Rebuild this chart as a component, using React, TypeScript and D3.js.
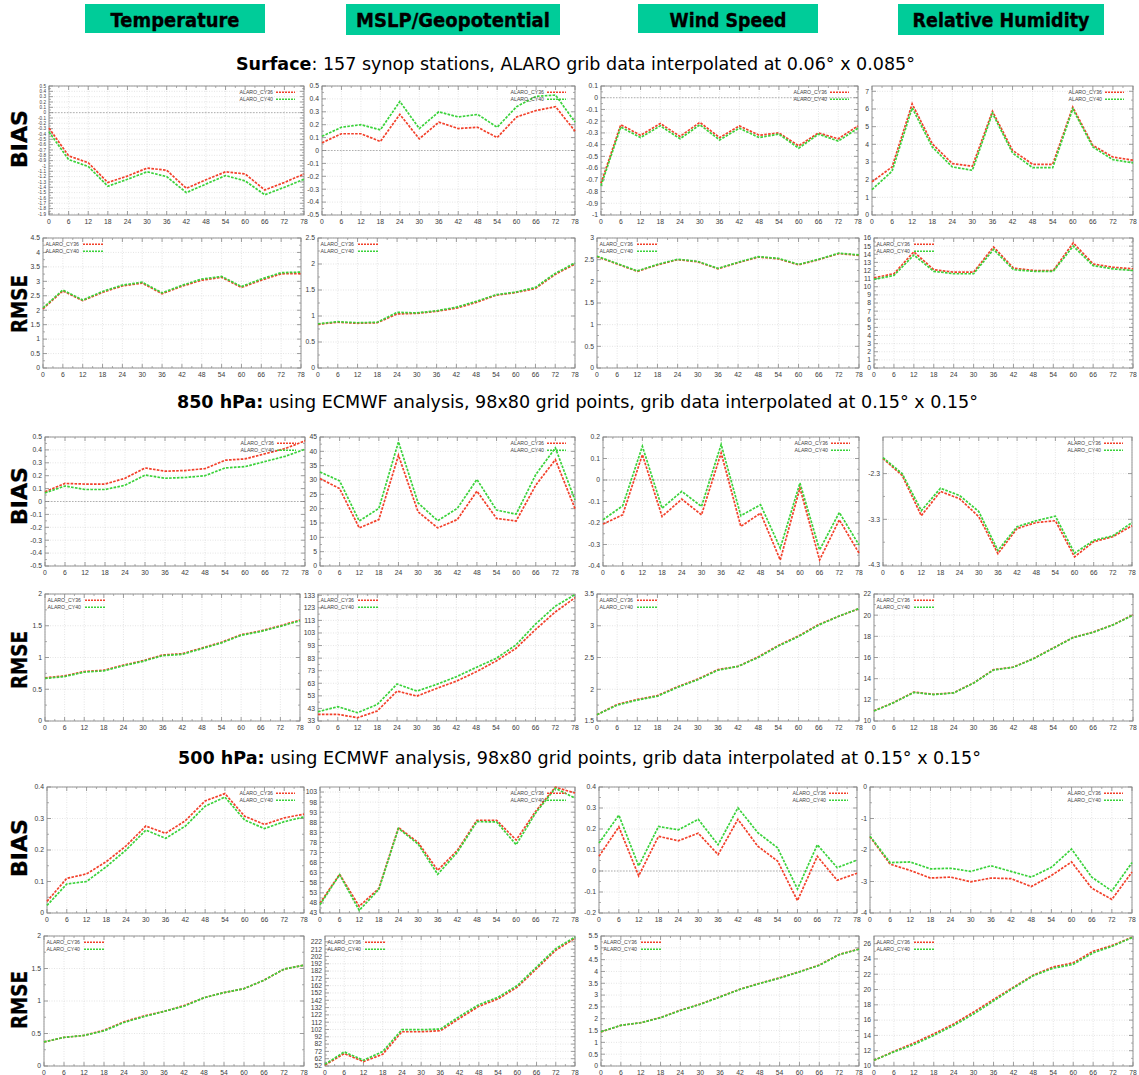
import React from "react";
import * as d3 from "d3";

// ---------- categories / labels ----------
const HOURS = [0, 6, 12, 18, 24, 30, 36, 42, 48, 54, 60, 66, 72, 78];
const MINOR_HOURS = [3, 9, 15, 21, 27, 33, 39, 45, 51, 57, 63, 69, 75];
const SERIES_NAMES = ["ALARO_CY36", "ALARO_CY40"];
const COLUMN_TITLES = ["Temperature", "MSLP/Geopotential", "Wind Speed", "Relative Humidity"];
const ROW_LABELS = ["BIAS", "RMSE", "BIAS", "RMSE", "BIAS", "RMSE"];
const SECTION_TITLES = [
  { bold: "Surface", rest: ": 157 synop stations, ALARO grib data interpolated at 0.06° x 0.085°" },
  { bold: "850 hPa:", rest: " using ECMWF analysis, 98x80 grid points, grib data interpolated at 0.15° x 0.15°" },
  { bold: "500 hPa:", rest: " using ECMWF analysis, 98x80 grid points, grib data interpolated at 0.15° x 0.15°" },
];

// ---------- y tick labels ----------
const T_SFC_T_BIAS = [0.5, 0.4, 0.3, 0.2, 0.1, 0, -0.1, -0.2, -0.3, -0.4, -0.5, -0.6, -0.7, -0.8, -0.9, -1, -1.1, -1.2, -1.3, -1.4, -1.5, -1.6, -1.7, -1.8, -1.9];
const T_PM05 = [0.5, 0.4, 0.3, 0.2, 0.1, 0, -0.1, -0.2, -0.3, -0.4, -0.5];
const T_SFC_W_BIAS = [0.1, 0, -0.1, -0.2, -0.3, -0.4, -0.5, -0.6, -0.7, -0.8, -0.9, -1];
const T_0_7 = [0, 1, 2, 3, 4, 5, 6, 7];
const T_0_45H = [0, 0.5, 1, 1.5, 2, 2.5, 3, 3.5, 4, 4.5];
const T_0_25H = [0, 0.5, 1, 1.5, 2, 2.5];
const T_0_3H = [0, 0.5, 1, 1.5, 2, 2.5, 3];
const T_0_16 = [0, 1, 2, 3, 4, 5, 6, 7, 8, 9, 10, 11, 12, 13, 14, 15, 16];
const T_0_45 = [0, 5, 10, 15, 20, 25, 30, 35, 40, 45];
const T_W850_BIAS = [0.2, 0.1, 0, -0.1, -0.2, -0.3, -0.4];
const T_RH850_BIAS = [-2.3, -3.3, -4.3];
const T_0_2H = [0, 0.5, 1, 1.5, 2];
const T_Z850_RMSE = [33, 43, 53, 63, 73, 83, 93, 103, 113, 123, 133];
const T_W850_RMSE = [1.5, 2, 2.5, 3, 3.5];
const T_10_22 = [10, 12, 14, 16, 18, 20, 22];
const T_0_04 = [0, 0.1, 0.2, 0.3, 0.4];
const T_Z500_BIAS = [43, 48, 53, 58, 63, 68, 73, 78, 83, 88, 93, 98, 103];
const T_W500_BIAS = [0.4, 0.3, 0.2, 0.1, 0, -0.1, -0.2];
const T_RH500_BIAS = [0, -1, -2, -3, -4];
const T_Z500_RMSE = [52, 62, 72, 82, 92, 102, 112, 122, 132, 142, 152, 162, 172, 182, 192, 202, 212, 222];
const T_0_55H = [0, 0.5, 1, 1.5, 2, 2.5, 3, 3.5, 4, 4.5, 5, 5.5];
const T_10_26 = [10, 12, 14, 16, 18, 20, 22, 24, 26];

// ---------- series values: Surface ----------
const sfcTBias36 = [-0.29, -0.81, -0.94, -1.31, -1.19, -1.04, -1.08, -1.42, -1.26, -1.11, -1.15, -1.45, -1.31, -1.15];
const sfcTBias40 = [-0.36, -0.88, -1.01, -1.38, -1.25, -1.11, -1.2, -1.5, -1.34, -1.18, -1.28, -1.54, -1.4, -1.25];
const sfcPBias36 = [0.06, 0.13, 0.13, 0.07, 0.28, 0.09, 0.22, 0.17, 0.18, 0.1, 0.26, 0.31, 0.34, 0.15];
const sfcPBias40 = [0.11, 0.18, 0.2, 0.16, 0.38, 0.17, 0.3, 0.26, 0.28, 0.18, 0.34, 0.42, 0.43, 0.22];
const sfcWBias36 = [-0.73, -0.23, -0.32, -0.22, -0.33, -0.21, -0.34, -0.24, -0.32, -0.3, -0.41, -0.3, -0.35, -0.24];
const sfcWBias40 = [-0.75, -0.25, -0.34, -0.24, -0.35, -0.23, -0.36, -0.26, -0.34, -0.31, -0.43, -0.31, -0.37, -0.26];
const sfcRBias36 = [1.88, 2.72, 6.29, 4.03, 2.91, 2.76, 5.87, 3.66, 2.87, 2.87, 6.1, 3.94, 3.28, 3.1];
const sfcRBias40 = [1.44, 2.48, 6.06, 3.85, 2.72, 2.53, 5.76, 3.51, 2.68, 2.68, 6.0, 3.85, 3.13, 2.95];

const sfcTRmse36 = [2.05, 2.67, 2.33, 2.62, 2.84, 2.94, 2.57, 2.83, 3.04, 3.14, 2.79, 3.04, 3.26, 3.27];
const sfcTRmse40 = [2.08, 2.7, 2.35, 2.65, 2.87, 2.97, 2.6, 2.86, 3.08, 3.17, 2.82, 3.08, 3.3, 3.32];
const sfcPRmse36 = [0.84, 0.88, 0.86, 0.87, 1.04, 1.05, 1.09, 1.15, 1.26, 1.4, 1.45, 1.53, 1.8, 2.0];
const sfcPRmse40 = [0.85, 0.89, 0.87, 0.88, 1.07, 1.06, 1.1, 1.17, 1.28, 1.41, 1.46, 1.55, 1.82, 2.02];
const sfcWRmse36 = [2.57, 2.4, 2.23, 2.38, 2.5, 2.45, 2.29, 2.43, 2.56, 2.52, 2.38, 2.5, 2.64, 2.6];
const sfcWRmse40 = [2.58, 2.41, 2.24, 2.39, 2.51, 2.46, 2.3, 2.44, 2.57, 2.53, 2.39, 2.51, 2.65, 2.61];
const sfcRRmse36 = [11.1, 11.6, 14.3, 12.1, 11.8, 11.8, 14.9, 12.3, 12.0, 12.0, 15.4, 12.8, 12.4, 12.2];
const sfcRRmse40 = [10.9, 11.4, 13.9, 11.9, 11.6, 11.6, 14.6, 12.1, 11.9, 11.9, 15.0, 12.6, 12.2, 12.0];

// ---------- series values: 850 hPa ----------
const t850Bias36 = [0.075, 0.14, 0.135, 0.135, 0.18, 0.26, 0.235, 0.24, 0.255, 0.32, 0.33, 0.37, 0.41, 0.47];
const t850Bias40 = [0.067, 0.12, 0.093, 0.093, 0.126, 0.205, 0.18, 0.186, 0.2, 0.26, 0.27, 0.31, 0.35, 0.405];
const z850Bias36 = [30.5, 27.0, 13.3, 16.2, 38.6, 18.9, 13.3, 16.2, 26.1, 16.6, 15.7, 28.2, 37.1, 20.0];
const z850Bias40 = [32.8, 29.7, 15.7, 20.1, 43.3, 22.0, 15.8, 20.1, 30.2, 19.5, 18.1, 31.9, 41.2, 23.0];
const w850Bias36 = [-0.205, -0.162, 0.118, -0.17, -0.089, -0.162, 0.126, -0.216, -0.154, -0.372, -0.037, -0.372, -0.185, -0.34];
const w850Bias40 = [-0.185, -0.12, 0.157, -0.131, -0.053, -0.123, 0.165, -0.166, -0.115, -0.317, -0.014, -0.325, -0.151, -0.302];
const rh850Bias36 = [-1.97, -2.34, -3.22, -2.69, -2.85, -3.24, -4.05, -3.5, -3.37, -3.33, -4.12, -3.79, -3.68, -3.44];
const rh850Bias40 = [-1.95, -2.3, -3.11, -2.62, -2.78, -3.13, -3.98, -3.46, -3.33, -3.23, -4.04, -3.76, -3.66, -3.37];

const t850Rmse36 = [0.68, 0.71, 0.78, 0.8, 0.88, 0.95, 1.04, 1.06, 1.15, 1.24, 1.36, 1.42, 1.5, 1.59];
const t850Rmse40 = [0.67, 0.7, 0.77, 0.79, 0.87, 0.94, 1.03, 1.05, 1.14, 1.23, 1.35, 1.41, 1.49, 1.58];
const z850Rmse36 = [38.3, 38.3, 35.6, 41.0, 56.8, 52.8, 58.9, 64.7, 72.1, 80.6, 90.6, 105.7, 119.7, 131.0];
const z850Rmse40 = [40.4, 44.4, 39.6, 46.2, 62.4, 56.8, 62.1, 68.2, 75.6, 82.7, 93.3, 110.0, 124.3, 133.5];
const w850Rmse36 = [1.6, 1.76, 1.84, 1.9, 2.04, 2.16, 2.31, 2.36, 2.51, 2.69, 2.84, 3.02, 3.15, 3.27];
const w850Rmse40 = [1.6, 1.75, 1.83, 1.89, 2.03, 2.15, 2.3, 2.36, 2.5, 2.68, 2.83, 3.01, 3.15, 3.27];
const rh850Rmse36 = [10.97, 11.76, 12.73, 12.52, 12.67, 13.6, 14.85, 15.1, 15.9, 16.9, 17.9, 18.4, 19.1, 20.03];
const rh850Rmse40 = [10.95, 11.74, 12.7, 12.5, 12.65, 13.58, 14.82, 15.08, 15.88, 16.88, 17.88, 18.38, 19.08, 20.0];

// ---------- series values: 500 hPa ----------
const t500Bias36 = [0.037, 0.11, 0.124, 0.163, 0.213, 0.276, 0.253, 0.293, 0.356, 0.379, 0.307, 0.281, 0.302, 0.314];
const t500Bias40 = [0.024, 0.092, 0.1, 0.147, 0.2, 0.263, 0.237, 0.276, 0.339, 0.368, 0.295, 0.268, 0.29, 0.305];
const z500Bias36 = [47.9, 62.2, 46.3, 55.2, 85.4, 78.0, 64.2, 74.0, 89.0, 89.0, 79.2, 93.5, 105.4, 102.5];
const z500Bias40 = [47.1, 62.0, 44.3, 54.7, 85.0, 77.2, 62.2, 73.1, 88.3, 88.2, 76.9, 92.7, 104.9, 100.0];
const w500Bias36 = [0.07, 0.21, -0.023, 0.165, 0.144, 0.18, 0.078, 0.246, 0.118, 0.047, -0.141, 0.07, -0.044, -0.011];
const w500Bias40 = [0.133, 0.266, 0.024, 0.212, 0.196, 0.246, 0.125, 0.301, 0.183, 0.11, -0.086, 0.125, 0.016, 0.052];
const rh500Bias36 = [-1.58, -2.45, -2.65, -2.89, -2.86, -3.01, -2.89, -2.91, -3.16, -2.81, -2.38, -3.21, -3.57, -2.7];
const rh500Bias40 = [-1.56, -2.4, -2.38, -2.6, -2.58, -2.68, -2.5, -2.68, -2.86, -2.55, -1.97, -2.86, -3.3, -2.4];

const t500Rmse36 = [0.37, 0.44, 0.47, 0.55, 0.68, 0.77, 0.84, 0.93, 1.05, 1.13, 1.19, 1.32, 1.49, 1.55];
const t500Rmse40 = [0.37, 0.44, 0.47, 0.54, 0.67, 0.76, 0.84, 0.92, 1.05, 1.13, 1.19, 1.32, 1.49, 1.55];
const z500Rmse36 = [53.4, 69.0, 58.0, 68.1, 98.9, 98.9, 100.3, 117.3, 133.7, 143.9, 160.0, 185.2, 210.5, 227.0];
const z500Rmse40 = [54.3, 71.3, 59.8, 71.8, 101.7, 101.7, 102.6, 120.0, 136.0, 146.1, 162.2, 187.5, 212.8, 228.5];
const w500Rmse36 = [1.44, 1.72, 1.83, 2.05, 2.36, 2.62, 2.93, 3.25, 3.5, 3.73, 3.99, 4.27, 4.72, 4.95];
const w500Rmse40 = [1.45, 1.72, 1.83, 2.04, 2.35, 2.61, 2.92, 3.24, 3.49, 3.72, 3.98, 4.26, 4.71, 4.94];
const rh500Rmse36 = [10.74, 11.92, 13.0, 14.2, 15.5, 17.05, 18.7, 20.3, 21.9, 22.95, 23.5, 25.0, 25.8, 26.9];
const rh500Rmse40 = [10.74, 11.85, 12.8, 14.0, 15.3, 16.8, 18.5, 20.2, 21.8, 22.8, 23.3, 24.8, 25.7, 26.85];

// ---------- layout (positions, not data) ----------
const ROW_Y: [number, number][] = [[86, 215], [238, 368], [437, 566], [594, 721], [787, 913], [936, 1066]];
const ROW_X: [number, number][][] = [
  [[49, 304], [322, 575], [601, 858], [872, 1133]],
  [[43, 301], [318, 575], [597, 859], [874, 1133]],
  [[45, 305], [320, 575], [603, 859], [883, 1132]],
  [[45, 300], [318, 575], [597, 859], [874, 1133]],
  [[47, 304], [320, 575], [599, 857], [870, 1132]],
  [[44, 304], [325, 575], [601, 859], [874, 1133]],
];
const ROW_LABEL_CY = [139, 304, 496, 660, 848, 1000];
const TITLE_LAYOUT = [
  { x: 236, w: 679, y: 70 },
  { x: 177, w: 801, y: 408 },
  { x: 178, w: 803, y: 764 },
];
const HEADER_BOXES = [
  { x0: 85, x1: 265, y0: 4, y1: 33, tw: 129 },
  { x0: 346, x1: 560, y0: 4, y1: 35, tw: 194 },
  { x0: 638, x1: 818, y0: 4, y1: 33, tw: 117 },
  { x0: 898, x1: 1104, y0: 4, y1: 35, tw: 177 },
];

type Panel = {
  row: number; col: number; domain: [number, number]; ticks: number[];
  cy36: number[]; cy40: number[]; tickFont?: number;
};

const PANELS: Panel[] = [
  { row: 0, col: 0, domain: [-1.92, 0.5], ticks: T_SFC_T_BIAS, cy36: sfcTBias36, cy40: sfcTBias40, tickFont: 4.6 },
  { row: 0, col: 1, domain: [-0.5, 0.5], ticks: T_PM05, cy36: sfcPBias36, cy40: sfcPBias40 },
  { row: 0, col: 2, domain: [-1, 0.1], ticks: T_SFC_W_BIAS, cy36: sfcWBias36, cy40: sfcWBias40 },
  { row: 0, col: 3, domain: [0, 7.3], ticks: T_0_7, cy36: sfcRBias36, cy40: sfcRBias40 },
  { row: 1, col: 0, domain: [0, 4.5], ticks: T_0_45H, cy36: sfcTRmse36, cy40: sfcTRmse40 },
  { row: 1, col: 1, domain: [0, 2.5], ticks: T_0_25H, cy36: sfcPRmse36, cy40: sfcPRmse40 },
  { row: 1, col: 2, domain: [0, 3], ticks: T_0_3H, cy36: sfcWRmse36, cy40: sfcWRmse40 },
  { row: 1, col: 3, domain: [0, 16], ticks: T_0_16, cy36: sfcRRmse36, cy40: sfcRRmse40 },
  { row: 2, col: 0, domain: [-0.5, 0.5], ticks: T_PM05, cy36: t850Bias36, cy40: t850Bias40 },
  { row: 2, col: 1, domain: [0, 45], ticks: T_0_45, cy36: z850Bias36, cy40: z850Bias40 },
  { row: 2, col: 2, domain: [-0.4, 0.2], ticks: T_W850_BIAS, cy36: w850Bias36, cy40: w850Bias40 },
  { row: 2, col: 3, domain: [-4.32, -1.5], ticks: T_RH850_BIAS, cy36: rh850Bias36, cy40: rh850Bias40 },
  { row: 3, col: 0, domain: [0, 2], ticks: T_0_2H, cy36: t850Rmse36, cy40: t850Rmse40 },
  { row: 3, col: 1, domain: [33, 134], ticks: T_Z850_RMSE, cy36: z850Rmse36, cy40: z850Rmse40 },
  { row: 3, col: 2, domain: [1.5, 3.5], ticks: T_W850_RMSE, cy36: w850Rmse36, cy40: w850Rmse40 },
  { row: 3, col: 3, domain: [10, 22], ticks: T_10_22, cy36: rh850Rmse36, cy40: rh850Rmse40 },
  { row: 4, col: 0, domain: [0, 0.4], ticks: T_0_04, cy36: t500Bias36, cy40: t500Bias40 },
  { row: 4, col: 1, domain: [43, 105.5], ticks: T_Z500_BIAS, cy36: z500Bias36, cy40: z500Bias40 },
  { row: 4, col: 2, domain: [-0.2, 0.4], ticks: T_W500_BIAS, cy36: w500Bias36, cy40: w500Bias40 },
  { row: 4, col: 3, domain: [-4, 0], ticks: T_RH500_BIAS, cy36: rh500Bias36, cy40: rh500Bias40 },
  { row: 5, col: 0, domain: [0, 2], ticks: T_0_2H, cy36: t500Rmse36, cy40: t500Rmse40 },
  { row: 5, col: 1, domain: [52, 230], ticks: T_Z500_RMSE, cy36: z500Rmse36, cy40: z500Rmse40 },
  { row: 5, col: 2, domain: [0, 5.5], ticks: T_0_55H, cy36: w500Rmse36, cy40: w500Rmse40 },
  { row: 5, col: 3, domain: [10, 27], ticks: T_10_26, cy36: rh500Rmse36, cy40: rh500Rmse40 },
];

const RED = "#f2402a";
const GREEN = "#3ad23a";
const SANS = "'Liberation Sans', Arial, sans-serif";
const TITLE_FONT = "'DejaVu Sans', Verdana, sans-serif";

const fmt = (v: number) => String(+v.toFixed(3));

function PanelView({ p }: { p: Panel }) {
  const [x0, x1] = ROW_X[p.row][p.col];
  const [y0, y1] = ROW_Y[p.row];
  const x = d3.scaleLinear().domain([0, 78]).range([x0, x1]);
  const y = d3.scaleLinear().domain(p.domain).range([y1, y0]);
  const line = d3
    .line<number>()
    .x((_, i) => x(HOURS[i]))
    .y((d) => y(d));
  const isBias = p.row % 2 === 0;
  const tf = p.tickFont ?? 6.8;
  const minorY: number[] = [];
  for (let i = 0; i + 1 < p.ticks.length; i++) minorY.push((p.ticks[i] + p.ticks[i + 1]) / 2);
  const showZero = p.domain[0] < 0 && p.domain[1] > 0;

  const legTextX = isBias ? x1 - 31 : x0 + 36;
  const legSample0 = isBias ? x1 - 28 : x0 + 40;
  const legSample1 = isBias ? x1 - 9 : x0 + 60;

  return (
    <g>
      <rect x={x0} y={y0} width={x1 - x0} height={y1 - y0} fill="#fff" />
      {HOURS.map((h) => (
        <line key={"gx" + h} x1={x(h)} x2={x(h)} y1={y0} y2={y1} stroke="#d4d4d4" strokeWidth={0.6} strokeDasharray="1,1.5" />
      ))}
      {p.ticks.map((t) => (
        <line key={"gy" + t} x1={x0} x2={x1} y1={y(t)} y2={y(t)} stroke="#d4d4d4" strokeWidth={0.6} strokeDasharray="1,1.5" />
      ))}
      {showZero && (
        <line x1={x0} x2={x1} y1={y(0)} y2={y(0)} stroke="#a8a8a8" strokeWidth={0.9} strokeDasharray="1.5,1.5" />
      )}
      {HOURS.map((h) => (
        <g key={"tx" + h}>
          <line x1={x(h)} x2={x(h)} y1={y1} y2={y1 - 4} stroke="#777" strokeWidth={0.7} />
          <line x1={x(h)} x2={x(h)} y1={y0} y2={y0 + 4} stroke="#777" strokeWidth={0.7} />
        </g>
      ))}
      {MINOR_HOURS.map((h) => (
        <g key={"mx" + h}>
          <line x1={x(h)} x2={x(h)} y1={y1} y2={y1 - 2} stroke="#777" strokeWidth={0.6} />
          <line x1={x(h)} x2={x(h)} y1={y0} y2={y0 + 2} stroke="#777" strokeWidth={0.6} />
        </g>
      ))}
      {p.ticks.map((t) => (
        <g key={"ty" + t}>
          <line x1={x0} x2={x0 + 4} y1={y(t)} y2={y(t)} stroke="#777" strokeWidth={0.7} />
          <line x1={x1} x2={x1 - 4} y1={y(t)} y2={y(t)} stroke="#777" strokeWidth={0.7} />
        </g>
      ))}
      {minorY.map((t, i) => (
        <g key={"my" + i}>
          <line x1={x0} x2={x0 + 2} y1={y(t)} y2={y(t)} stroke="#777" strokeWidth={0.6} />
          <line x1={x1} x2={x1 - 2} y1={y(t)} y2={y(t)} stroke="#777" strokeWidth={0.6} />
        </g>
      ))}
      <rect x={x0} y={y0} width={x1 - x0} height={y1 - y0} fill="none" stroke="#8a8a8a" strokeWidth={0.9} />
      {HOURS.map((h) => (
        <text key={"lx" + h} x={x(h)} y={y1 + 9} fontSize={6.8} fontFamily={SANS} fill="#3a3a3a" textAnchor="middle">
          {h}
        </text>
      ))}
      {p.ticks.map((t) => (
        <text key={"ly" + t} x={x0 - 3} y={y(t)} dy="0.35em" fontSize={tf} fontFamily={SANS} fill="#3a3a3a" textAnchor="end">
          {fmt(t)}
        </text>
      ))}
      <path d={line(p.cy36) || ""} fill="none" stroke={RED} strokeWidth={1.7} strokeDasharray="2.6,1.3" />
      <path d={line(p.cy40) || ""} fill="none" stroke={GREEN} strokeWidth={1.7} strokeDasharray="2.6,1.3" />
      {SERIES_NAMES.map((n, i) => (
        <g key={n}>
          <text x={legTextX} y={y0 + 8 + i * 7} fontSize={5.2} fontFamily={SANS} fill="#444" textAnchor="end">
            {n}
          </text>
          <line
            x1={legSample0}
            x2={legSample1}
            y1={y0 + 6.3 + i * 7}
            y2={y0 + 6.3 + i * 7}
            stroke={i === 0 ? RED : GREEN}
            strokeWidth={1.4}
            strokeDasharray="2,1"
          />
        </g>
      ))}
    </g>
  );
}

export default function App() {
  return (
    <svg
      width={1139}
      height={1075}
      viewBox="0 0 1139 1075"
      style={{ position: "absolute", left: 0, top: 0, background: "#fff", display: "block" }}
    >
      <rect x={0} y={0} width={1139} height={1075} fill="#fff" />
      {COLUMN_TITLES.map((t, i) => {
        const b = HEADER_BOXES[i];
        return (
          <g key={t}>
            <rect x={b.x0} y={b.y0} width={b.x1 - b.x0} height={b.y1 - b.y0} fill="#00cc99" />
            <text
              x={(b.x0 + b.x1) / 2}
              y={b.y0 + 23}
              fontSize={19.5}
              fontWeight="bold"
              fontFamily={TITLE_FONT}
              textAnchor="middle"
              fill="#000"
              stroke="#000"
              strokeWidth={0.35}
              textLength={b.tw}
              lengthAdjust="spacingAndGlyphs"
            >
              {t}
            </text>
          </g>
        );
      })}
      {SECTION_TITLES.map((s, i) => {
        const l = TITLE_LAYOUT[i];
        return (
          <text
            key={s.bold}
            x={l.x}
            y={l.y}
            fontSize={17.5}
            fontFamily={TITLE_FONT}
            fill="#000"
            textLength={l.w}
            lengthAdjust="spacingAndGlyphs"
          >
            <tspan fontWeight="bold">{s.bold}</tspan>
            <tspan>{s.rest}</tspan>
          </text>
        );
      })}
      {ROW_LABELS.map((r, i) => (
        <text
          key={i}
          transform={`translate(19,${ROW_LABEL_CY[i]}) rotate(-90)`}
          fontSize={22}
          fontWeight="bold"
          fontFamily={TITLE_FONT}
          textAnchor="middle"
          dominantBaseline="central"
          fill="#000"
          stroke="#000"
          strokeWidth={0.3}
          textLength={58}
          lengthAdjust="spacingAndGlyphs"
        >
          {r}
        </text>
      ))}
      {PANELS.map((p) => (
        <PanelView key={p.row + "-" + p.col} p={p} />
      ))}
    </svg>
  );
}
